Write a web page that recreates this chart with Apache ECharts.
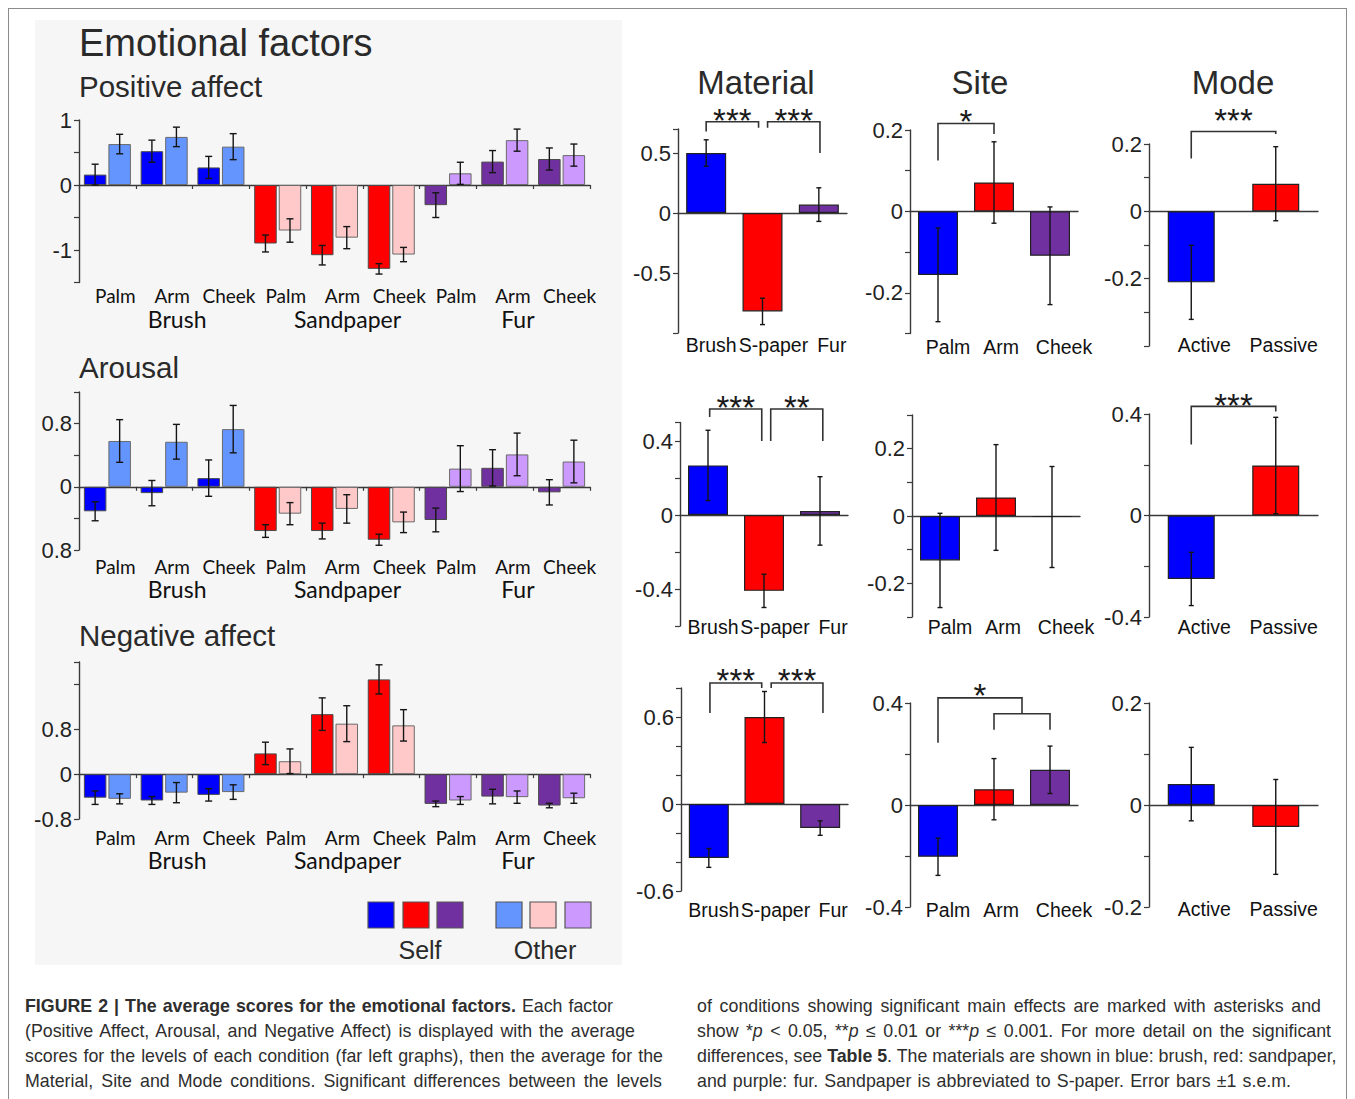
<!DOCTYPE html>
<html><head><meta charset="utf-8">
<script src="https://cdn.jsdelivr.net/npm/echarts@6.0.0/dist/echarts.min.js"></script>
<style>
html,body{margin:0;padding:0;background:#fff;width:1355px;height:1099px;overflow:hidden;}
#frame{position:absolute;left:8px;top:8px;width:1339px;height:1100px;border:1px solid #8c8c8c;box-sizing:border-box;}
#bgLeft{position:absolute;left:35px;top:20px;width:587px;height:945px;background:#f6f6f6;}
#chart{position:absolute;left:0;top:0;width:1355px;height:980px;}
.cap{position:absolute;font-family:"Liberation Sans",Arial,sans-serif;font-size:17.8px;line-height:25px;color:#2e2e2e;white-space:nowrap;}
.cap div{height:25px;text-align:justify;text-align-last:justify;white-space:nowrap;}
</style></head><body>
<div id="frame"></div>
<div id="bgLeft"></div>
<div id="chart"></div>
<div class="cap" style="left:25px;top:994px;">
<div style="width:588px"><b>FIGURE 2 | The average scores for the emotional factors.</b> Each factor</div>
<div style="width:610px">(Positive Affect, Arousal, and Negative Affect) is displayed with the average</div>
<div style="width:638px">scores for the levels of each condition (far left graphs), then the average for the</div>
<div style="width:637px">Material, Site and Mode conditions. Significant differences between the levels</div>
</div>
<div class="cap" style="left:697px;top:994px;">
<div style="width:624px">of conditions showing significant main effects are marked with asterisks and</div>
<div style="width:634px">show *<i>p</i> &lt; 0.05, **<i>p</i> ≤ 0.01 or ***<i>p</i> ≤ 0.001. For more detail on the significant</div>
<div style="width:639px">differences, see <b>Table 5</b>. The materials are shown in blue: brush, red: sandpaper,</div>
<div style="width:594px">and purple: fur. Sandpaper is abbreviated to S-paper. Error bars ±1 s.e.m.</div>
</div>
<script>
// ---------------- DATA ----------------
const subCats = ['Palm','Arm','Cheek','Palm','Arm','Cheek','Palm','Arm','Cheek'];
const groupNames = ['Brush','Sandpaper','Fur'];

const posSelf      = [0.16, 0.52, 0.27, -0.90, -1.08, -1.29, -0.31, 0.36, 0.40];
const posSelfErr   = [0.16, 0.17, 0.17, 0.13, 0.15, 0.08, 0.19, 0.17, 0.17];
const posOther     = [0.63, 0.74, 0.59, -0.70, -0.81, -1.07, 0.18, 0.69, 0.46];
const posOtherErr  = [0.15, 0.15, 0.20, 0.18, 0.17, 0.11, 0.17, 0.17, 0.17];

const arSelf       = [-0.31, -0.08, 0.11, -0.56, -0.56, -0.67, -0.42, 0.24, -0.07];
const arSelfErr    = [0.12, 0.16, 0.23, 0.08, 0.10, 0.07, 0.15, 0.23, 0.16];
const arOther      = [0.58, 0.57, 0.73, -0.34, -0.28, -0.45, 0.23, 0.41, 0.32];
const arOtherErr   = [0.27, 0.22, 0.30, 0.14, 0.18, 0.13, 0.29, 0.27, 0.27];

const negSelf      = [-0.42, -0.47, -0.37, 0.37, 1.07, 1.69, -0.53, -0.40, -0.56];
const negSelfErr   = [0.12, 0.07, 0.11, 0.20, 0.29, 0.26, 0.05, 0.13, 0.04];
const negOther     = [-0.44, -0.33, -0.32, 0.23, 0.90, 0.87, -0.47, -0.41, -0.43];
const negOtherErr  = [0.09, 0.18, 0.13, 0.22, 0.32, 0.28, 0.07, 0.11, 0.09];

const materialCats = ['Brush','S-paper','Fur'];
const siteCats     = ['Palm','Arm','Cheek'];
const modeCats     = ['Active','Passive'];

const posMaterial = [0.50, -0.82, 0.07];    const posMaterialErr = [0.11, 0.11, 0.14];
const posSite     = [-0.156, 0.071, -0.109]; const posSiteErr     = [0.115, 0.10, 0.12];
const posMode     = [-0.211, 0.082];         const posModeErr     = [0.11, 0.11];
const arMaterial  = [0.268, -0.41, 0.022];   const arMaterialErr  = [0.19, 0.09, 0.185];
const arSite      = [-0.132, 0.055, -0.003]; const arSiteErr      = [0.14, 0.157, 0.15];
const arMode      = [-0.25, 0.197];          const arModeErr      = [0.105, 0.19];
const negMaterial = [-0.372, 0.60, -0.166];  const negMaterialErr = [0.065, 0.176, 0.05];
const negSite     = [-0.203, 0.062, 0.138];  const negSiteErr     = [0.073, 0.12, 0.093];
const negMode     = [0.041, -0.043];         const negModeErr     = [0.072, 0.093];

// significance brackets: [xFrom, xTo, topValue, fromEndValue, toEndValue, label, labelValue]
const posMaterialSig = [[0, 0.93, 0.76, 0.68, 0.71, '***', 0.817], [1.09, 2.02, 0.76, 0.71, 0.50, '***', 0.817]];
const posSiteSig     = [[0, 1, 0.216, 0.125, 0.19, '*', 0.236]];
const posModeSig     = [[0, 1, 0.237, 0.157, 0.23, '***', 0.288]];
const arMaterialSig  = [[0.03, 0.96, 0.573, 0.53, 0.40, '***', 0.616], [1.12, 2.05, 0.573, 0.40, 0.40, '**', 0.616]];
const arModeSig      = [[0, 1, 0.43, 0.28, 0.41, '***', 0.457]];
const negMaterialSig = [[0.02, 0.95, 0.834, 0.628, 0.80, '***', 0.89], [1.12, 2.05, 0.834, 0.80, 0.628, '***', 0.89]];
const negSiteSig     = [[0, 1.5, 0.42, 0.244, 0.358, '*', 0.453], [1, 2, 0.358, 0.295, 0.295, '', 0]];

// y tick labels shown
const posTicks = {vals:[1, 0, -1], texts:['1','0','-1']};
const arTicks  = {vals:[0.8, 0, -0.8], texts:['0.8','0','0.8']};
const negTicks = {vals:[0.8, 0, -0.8], texts:['0.8','0','-0.8']};
function symTicks(a){ return {vals:[a, 0, -a], texts:[String(a), '0', '-' + a]}; }

// ---------------- STYLE ----------------
const FA = '"Liberation Sans", Arial, Helvetica, sans-serif';
const FL = 'Lato, "Open Sans", sans-serif';
const selfColors  = ['#0000ff', '#ff0000', '#7030a0'];
const otherColors = ['#6495ff', '#ffc9c9', '#cc99ff'];
const AXC = '#3a3a3a';

const grids = [], xAxes = [], yAxes = [], series = [];

function yFormatter(t){
  return function(v){ const k = t.vals.findIndex(u => Math.abs(u - v) < 1e-6); return k >= 0 ? t.texts[k] : ''; };
}

function errRender(offset, cap){
  return function(params, api){
    const x = api.value(0), v = api.value(1), e = api.value(2);
    const p = api.coord([x, v]);
    const t = api.coord([x, v + e]), b = api.coord([x, v - e]);
    const cx = p[0] + offset;
    const st = {stroke:'#151515', lineWidth:1.4};
    return {type:'group', children:[
      {type:'line', shape:{x1:cx, y1:t[1], x2:cx, y2:b[1]}, style:st},
      {type:'line', shape:{x1:cx-cap, y1:t[1], x2:cx+cap, y2:t[1]}, style:st},
      {type:'line', shape:{x1:cx-cap, y1:b[1], x2:cx+cap, y2:b[1]}, style:st}
    ]};
  };
}

function xPix(api, x){
  const i0 = Math.floor(x), i1 = Math.ceil(x);
  const p0 = api.coord([i0, 0])[0];
  if (i0 === i1) return p0;
  const p1 = api.coord([i1, 0])[0];
  return p0 + (p1 - p0) * (x - i0);
}

function sigRender(list){
  return function(params, api){
    const s = list[params.dataIndex];
    const x1 = xPix(api, s[0]), x2 = xPix(api, s[1]);
    const yT = api.coord([0, s[2]])[1], y1 = api.coord([0, s[3]])[1], y2 = api.coord([0, s[4]])[1];
    const ch = [{type:'polyline', shape:{points:[[x1,y1],[x1,yT],[x2,yT],[x2,y2]]}, style:{stroke:'#333', lineWidth:1.6, fill:null}}];
    if (s[5]) {
      const ys = api.coord([0, s[6]])[1];
      ch.push({type:'text', x:(x1+x2)/2, y:ys + 6, style:{text:s[5], font:'33px ' + FA, fill:'#1a1a1a', align:'center', verticalAlign:'middle', textAlign:'center', textVerticalAlign:'middle'}});
    }
    return {type:'group', children:ch};
  };
}

function addAxes(box, cats, yMin, yMax, yInt, ticks, xTick, labelCfg){
  const gi = grids.length;
  grids.push({left:box[0], top:box[1], width:box[2], height:box[3], containLabel:false, outerBoundsMode:'none'});
  const xi = xAxes.length;
  xAxes.push({type:'category', gridIndex:gi, position:'bottom', data:cats,
    axisLine:{show:true, onZero:true, lineStyle:{color:AXC, width:1.3}},
    axisTick:{show:xTick, length:4, lineStyle:{color:AXC, width:1.2}},
    axisLabel:{show:false}, splitLine:{show:false}});
  xAxes.push({type:'category', gridIndex:gi, position:'bottom', data:cats,
    axisLine:{show:false, onZero:false}, axisTick:{show:false}, splitLine:{show:false}, axisLabel:labelCfg});
  const yi = yAxes.length;
  yAxes.push({type:'value', gridIndex:gi, min:yMin, max:yMax, interval:yInt,
    axisLine:{show:true, onZero:false, lineStyle:{color:AXC, width:1.4}},
    axisTick:{show:true, length:5, lineStyle:{color:AXC, width:1.2}},
    axisLabel:{show:true, margin:7, formatter:yFormatter(ticks), fontFamily:FA, fontSize:22, color:'#222', showMinLabel:true, showMaxLabel:true, hideOverlap:false},
    splitLine:{show:false}});
  return {xi, yi};
}

const BW = 22.5, BGAP = 0.09;
const OFF = (BW + BW * BGAP) / 2;

function leftPanel(box, yMin, yMax, yInt, ticks, self, selfErr, other, otherErr, margin){
  const labelCfg = {show:true, interval:0, hideOverlap:false, margin:margin,
    formatter:(v, i) => '{s|' + v + '}\n{g|' + (i % 3 === 1 ? groupNames[(i - 1) / 3] : ' ') + '}',
    rich:{s:{fontFamily:FL, fontSize:19, color:'#111', lineHeight:23, padding:[0,0,0,16]},
          g:{fontFamily:FL, fontSize:23, color:'#111', lineHeight:23, padding:[0,0,0,26]}}};
  const a = addAxes(box, subCats, yMin, yMax, yInt, ticks, true, labelCfg);
  series.push({type:'bar', xAxisIndex:a.xi, yAxisIndex:a.yi, barWidth:BW, barGap:(BGAP*100)+'%', silent:true, z:2,
    data:self.map((v, i) => ({value:v, itemStyle:{color:selfColors[Math.floor(i/3)], borderColor:'#4a4a4a', borderWidth:1, borderRadius:0}}))});
  series.push({type:'bar', xAxisIndex:a.xi, yAxisIndex:a.yi, barWidth:BW, barGap:(BGAP*100)+'%', silent:true, z:2,
    data:other.map((v, i) => ({value:v, itemStyle:{color:otherColors[Math.floor(i/3)], borderColor:'#6a6a6a', borderWidth:1, borderRadius:0}}))});
  series.push({type:'custom', xAxisIndex:a.xi, yAxisIndex:a.yi, z:5, silent:true, renderItem:errRender(-OFF, 3.5),
    data:self.map((v, i) => [i, v, selfErr[i]])});
  series.push({type:'custom', xAxisIndex:a.xi, yAxisIndex:a.yi, z:5, silent:true, renderItem:errRender(OFF, 3.5),
    data:other.map((v, i) => [i, v, otherErr[i]])});
}

// label shifts (pixels right of the category centre) for the right-hand panels
const SHIFT_MAT = [5, 11, 13], SHIFT_SITE = [10, 7, 14], SHIFT_MODE = [13, 8];

function rightPanel(box, cats, yMin, yMax, yInt, ticks, vals, errs, sig, margin, bw, shifts){
  const rich = {};
  shifts.forEach((s, i) => { rich['a' + i] = {fontFamily:FA, fontSize:19.5, color:'#111', lineHeight:22, padding: s >= 0 ? [0,0,0,2*s] : [0,-2*s,0,0]}; });
  const labelCfg = {show:true, interval:0, hideOverlap:false, margin:margin,
    formatter:(v, i) => '{a' + i + '|' + v + '}', rich:rich};
  const a = addAxes(box, cats, yMin, yMax, yInt, ticks, false, labelCfg);
  series.push({type:'bar', xAxisIndex:a.xi, yAxisIndex:a.yi, barWidth:bw, silent:true, z:2,
    data:vals.map((v, i) => ({value:v, itemStyle:{color:selfColors[i], borderColor:'#222', borderWidth:1.2, borderRadius:0}}))});
  series.push({type:'custom', xAxisIndex:a.xi, yAxisIndex:a.yi, z:5, silent:true, renderItem:errRender(0, 2.5),
    data:vals.map((v, i) => [i, v, errs[i]])});
  if (sig) series.push({type:'custom', xAxisIndex:a.xi, yAxisIndex:a.yi, z:6, silent:true, clip:false,
    renderItem:sigRender(sig), data:sig.map(s => [0, s[2]])});
}

// left panels
leftPanel([79, 120, 511, 162.5], -1.5, 1, 0.5, posTicks, posSelf, posSelfErr, posOther, posOtherErr, 1.5);
leftPanel([79, 392, 511, 158], -0.8, 1.2, 0.4, arTicks, arSelf, arSelfErr, arOther, arOtherErr, 4.5);
leftPanel([79, 662, 511, 157], -0.8, 2.0, 0.8, negTicks, negSelf, negSelfErr, negOther, negOtherErr, 6.5);

// right panels, row 1
rightPanel([678, 129, 169, 204], materialCats, -1.0, 0.7, 0.5, symTicks(0.5), posMaterial, posMaterialErr, posMaterialSig, 1, 40, SHIFT_MAT);
rightPanel([910, 130, 168, 203.5], siteCats, -0.3, 0.2, 0.1, symTicks(0.2), posSite, posSiteErr, posSiteSig, 2, 40, SHIFT_SITE);
rightPanel([1149, 144, 169, 202], modeCats, -0.4, 0.2, 0.1, symTicks(0.2), posMode, posModeErr, posModeSig, -12, 47, SHIFT_MODE);
// row 2
rightPanel([680, 422.5, 168, 203.5], materialCats, -0.6, 0.5, 0.2, symTicks(0.4), arMaterial, arMaterialErr, arMaterialSig, -10, 40, SHIFT_MAT);
rightPanel([912, 415, 168, 202], siteCats, -0.3, 0.3, 0.1, symTicks(0.2), arSite, arSiteErr, null, -1, 40, SHIFT_SITE);
rightPanel([1149, 414, 169, 203], modeCats, -0.4, 0.4, 0.2, symTicks(0.4), arMode, arModeErr, arModeSig, -1, 47, SHIFT_MODE);
// row 3
rightPanel([681, 688, 167, 203], materialCats, -0.6, 0.8, 0.2, symTicks(0.6), negMaterial, negMaterialErr, negMaterialSig, 8, 40, SHIFT_MAT);
rightPanel([910, 703, 168, 204], siteCats, -0.4, 0.4, 0.2, symTicks(0.4), negSite, negSiteErr, negSiteSig, -8, 40, SHIFT_SITE);
rightPanel([1149, 703, 169, 204], modeCats, -0.2, 0.2, 0.1, symTicks(0.2), negMode, negModeErr, null, -9, 47, SHIFT_MODE);

// titles and legend
function txt(x, y, s, size, align, font){
  return {type:'text', x:x, y:y, silent:true, style:{text:s, font:size + 'px ' + (font || FA), fill:'#2a2a2a', align:align || 'left', verticalAlign:'middle', textAlign:align || 'left', textVerticalAlign:'middle'}};
}
const graphics = [
  txt(79, 43, 'Emotional factors', 38),
  txt(79, 86, 'Positive affect', 29.5),
  txt(79, 367, 'Arousal', 29.5),
  txt(79, 635, 'Negative affect', 29.5),
  txt(756, 82, 'Material', 33, 'center'),
  txt(980, 82, 'Site', 33, 'center'),
  txt(1233, 82, 'Mode', 33, 'center'),
  txt(420, 950, 'Self', 25, 'center'),
  txt(545, 950, 'Other', 25, 'center')
];
const legendX = [368, 403, 437, 496, 530, 565];
const legendC = selfColors.concat(otherColors);
legendX.forEach((x, i) => graphics.push({type:'rect', silent:true, shape:{x:x, y:902, width:26, height:26}, style:{fill:legendC[i], stroke:'#555', lineWidth:1.2}}));

const chart = echarts.init(document.getElementById('chart'), null, {renderer:'svg', width:1355, height:980});
chart.setOption({
  animation:false,
  backgroundColor:'transparent',
  grid:grids, xAxis:xAxes, yAxis:yAxes, series:series,
  graphic:{elements:graphics}
});
</script>
</body></html>
